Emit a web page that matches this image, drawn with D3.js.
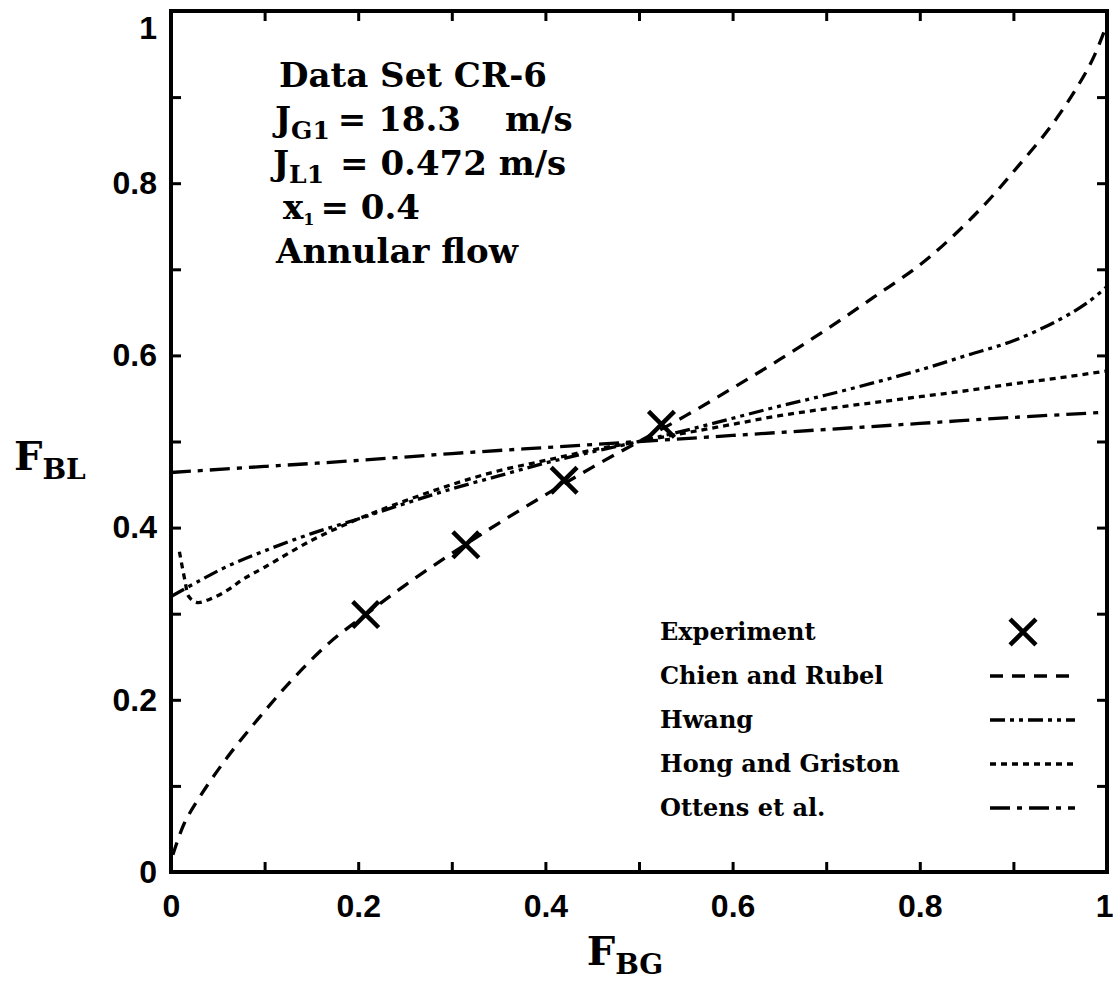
<!DOCTYPE html>
<html>
<head>
<meta charset="utf-8">
<script src="https://cdn.jsdelivr.net/npm/d3@7"></script>
<style>
  html, body { margin: 0; padding: 0; background: #fff; }
  svg { display: block; }
  .tick-label { font-family: "Liberation Sans", Arial, sans-serif; font-weight: bold; font-size: 32px; fill: #000; }
  .serif { font-family: "DejaVu Serif", serif; font-weight: bold; fill: #000; }
</style>
</head>
<body>
<svg id="chart" width="1113" height="997"></svg>
<script>
// F_BL versus F_BG, data set CR-6

// Experimental points [F_BG, F_BL]
const experiment = [[0.208, 0.299], [0.315, 0.380], [0.420, 0.455], [0.524, 0.520]];

// Model predictions [F_BG, F_BL]
const chienRubel = [
  [0.002, 0.020], [0.014, 0.056], [0.030, 0.086], [0.060, 0.133], [0.094, 0.179],
  [0.130, 0.224], [0.170, 0.267], [0.208, 0.299], [0.250, 0.333], [0.300, 0.370],
  [0.350, 0.405], [0.400, 0.438], [0.450, 0.470], [0.500, 0.500], [0.550, 0.530],
  [0.600, 0.562], [0.650, 0.595], [0.700, 0.630], [0.750, 0.667], [0.800, 0.705],
  [0.830, 0.733], [0.870, 0.776], [0.906, 0.821], [0.940, 0.866], [0.970, 0.915],
  [0.986, 0.947], [0.999, 0.982]
];
const hwang = [
  [0.000, 0.320], [0.030, 0.338], [0.060, 0.355], [0.100, 0.373], [0.150, 0.393],
  [0.200, 0.410], [0.250, 0.428], [0.300, 0.445], [0.350, 0.460], [0.400, 0.475],
  [0.450, 0.488], [0.500, 0.500], [0.550, 0.513], [0.600, 0.527], [0.650, 0.541],
  [0.700, 0.554], [0.750, 0.568], [0.800, 0.583], [0.850, 0.600], [0.900, 0.617],
  [0.950, 0.642], [0.980, 0.662], [1.000, 0.680]
];
const hongGriston = [
  [0.009, 0.372], [0.015, 0.338], [0.019, 0.320], [0.028, 0.313], [0.042, 0.317],
  [0.060, 0.327], [0.077, 0.340], [0.100, 0.354], [0.150, 0.385], [0.200, 0.410],
  [0.250, 0.431], [0.300, 0.450], [0.350, 0.466], [0.400, 0.478], [0.450, 0.490],
  [0.500, 0.500], [0.550, 0.510], [0.600, 0.520], [0.650, 0.530], [0.700, 0.538],
  [0.750, 0.545], [0.800, 0.552], [0.850, 0.559], [0.900, 0.567], [0.950, 0.574],
  [1.000, 0.582]
];
const ottens = [
  [0.000, 0.464], [0.100, 0.471], [0.200, 0.478], [0.300, 0.486], [0.400, 0.493],
  [0.500, 0.500], [0.600, 0.507], [0.700, 0.514], [0.800, 0.521], [0.900, 0.528],
  [1.000, 0.534]
];

const legendNames = ["Experiment", "Chien and Rubel", "Hwang", "Hong and Griston", "Ottens et al."];
const tickValues = [0, 0.1, 0.2, 0.3, 0.4, 0.5, 0.6, 0.7, 0.8, 0.9, 1];
const labelledTicks = ["0", "0.2", "0.4", "0.6", "0.8", "1"];

const dashes = {
  chien: "13,9",
  hwang: "15,5,4,5,4,5",
  hong: "6,5",
  ottens: "20,7,5,7"
};

const svg = d3.select("#chart");
svg.append("rect").attr("width", 1113).attr("height", 997).attr("fill", "#fff");

const plotLeft = 171, plotRight = 1107, plotTop = 11, plotBottom = 872;
const x = d3.scaleLinear().domain([0, 1]).range([plotLeft, plotRight]);
const y = d3.scaleLinear().domain([0, 1]).range([plotBottom, plotTop]);

const fmt = d => {
  const s = d3.format("~g")(d);
  return labelledTicks.includes(s) ? s : "";
};

// Axes: inward ticks on all four sides, labels on bottom and left
const axB = svg.append("g").attr("transform", `translate(0,${plotBottom})`)
  .call(d3.axisBottom(x).tickValues(tickValues).tickSize(-10).tickPadding(22).tickFormat(fmt));
const axL = svg.append("g").attr("transform", `translate(${plotLeft},0)`)
  .call(d3.axisLeft(y).tickValues(tickValues).tickSize(-10).tickPadding(14).tickFormat(fmt));
const axT = svg.append("g").attr("transform", `translate(0,${plotTop})`)
  .call(d3.axisTop(x).tickValues(tickValues).tickSize(-10).tickFormat(""));
const axR = svg.append("g").attr("transform", `translate(${plotRight},0)`)
  .call(d3.axisRight(y).tickValues(tickValues).tickSize(-10).tickFormat(""));

[axB, axL, axT, axR].forEach(g => {
  g.select(".domain").remove();
  g.selectAll(".tick line").attr("stroke", "#000").attr("stroke-width", 3);
  g.selectAll(".tick text").attr("class", "tick-label").attr("font-size", null).attr("font-family", null);
});
axB.selectAll(".tick text").attr("dy", "0.71em");
// keep the end labels inside the page
axB.selectAll(".tick text").filter(d => d === 1).attr("text-anchor", "end").attr("dx", 6);
axL.selectAll(".tick text").filter(d => d === 1).attr("dy", "0.85em");

// Plot frame
svg.append("rect")
  .attr("x", plotLeft).attr("y", plotTop)
  .attr("width", plotRight - plotLeft).attr("height", plotBottom - plotTop)
  .attr("fill", "none").attr("stroke", "#000").attr("stroke-width", 4);

// Model curves
const line = d3.line().x(d => x(d[0])).y(d => y(d[1])).curve(d3.curveCatmullRom.alpha(0.5));
const curves = [
  { data: chienRubel, dash: dashes.chien },
  { data: hwang, dash: dashes.hwang },
  { data: hongGriston, dash: dashes.hong },
  { data: ottens, dash: dashes.ottens }
];
svg.append("g").selectAll("path").data(curves).join("path")
  .attr("d", d => line(d.data))
  .attr("fill", "none").attr("stroke", "#000")
  .attr("stroke-width", 3.3)
  .attr("stroke-dasharray", d => d.dash);

// Experimental points
const cross = d3.symbol().type(d3.symbolTimes).size(440);
svg.append("g").selectAll("path").data(experiment).join("path")
  .attr("transform", d => `translate(${x(d[0])},${y(d[1])})`)
  .attr("d", cross)
  .attr("fill", "none").attr("stroke", "#000").attr("stroke-width", 4.5);

// Condition annotations
const note = svg.append("g").attr("class", "serif").attr("font-size", 34);
note.append("text").attr("x", 279).attr("y", 87).text("Data Set CR-6");
const l2 = note.append("text").attr("x", 275).attr("y", 131);
l2.append("tspan").text("J");
l2.append("tspan").attr("font-size", 25).attr("dy", 8).text("G1");
l2.append("tspan").attr("dy", -8).attr("dx", 8).text("= 18.3");
l2.append("tspan").attr("x", 505).text("m/s");
const l3 = note.append("text").attr("x", 273).attr("y", 175);
l3.append("tspan").text("J");
l3.append("tspan").attr("font-size", 25).attr("dy", 8).text("L1");
l3.append("tspan").attr("dy", -8).attr("dx", 16).text("= 0.472 m/s");
const l4 = note.append("text").attr("x", 283).attr("y", 219);
l4.append("tspan").text("x");
l4.append("tspan").attr("font-size", 16).attr("dy", 6).text("1");
l4.append("tspan").attr("dy", -6).attr("dx", 6).text("= 0.4");
note.append("text").attr("x", 276).attr("y", 263).text("Annular flow");

// Legend
const legend = svg.append("g").attr("class", "serif").attr("font-size", 24);
const legY = [640, 684, 728, 772, 816];
legendNames.forEach((name, i) => {
  legend.append("text").attr("x", 660).attr("y", legY[i]).text(name);
});
legend.append("path")
  .attr("transform", `translate(1023,${legY[0] - 8})`)
  .attr("d", cross).attr("fill", "none").attr("stroke", "#000").attr("stroke-width", 4.5);
const sampleDash = [dashes.chien, dashes.hwang, dashes.hong, dashes.ottens];
sampleDash.forEach((dash, i) => {
  legend.append("line")
    .attr("x1", 990).attr("x2", 1075)
    .attr("y1", legY[i + 1] - 8).attr("y2", legY[i + 1] - 8)
    .attr("stroke", "#000").attr("stroke-width", 3.3)
    .attr("stroke-dasharray", dash);
});

// Axis titles
const xt = svg.append("text").attr("class", "serif").attr("font-size", 40)
  .attr("x", 625).attr("y", 965).attr("text-anchor", "middle");
xt.append("tspan").text("F");
xt.append("tspan").attr("font-size", 28).attr("dy", 9).text("BG");
const yt = svg.append("text").attr("class", "serif").attr("font-size", 40)
  .attr("x", 14).attr("y", 470);
yt.append("tspan").text("F");
yt.append("tspan").attr("font-size", 28).attr("dy", 9).text("BL");
</script>
</body>
</html>
